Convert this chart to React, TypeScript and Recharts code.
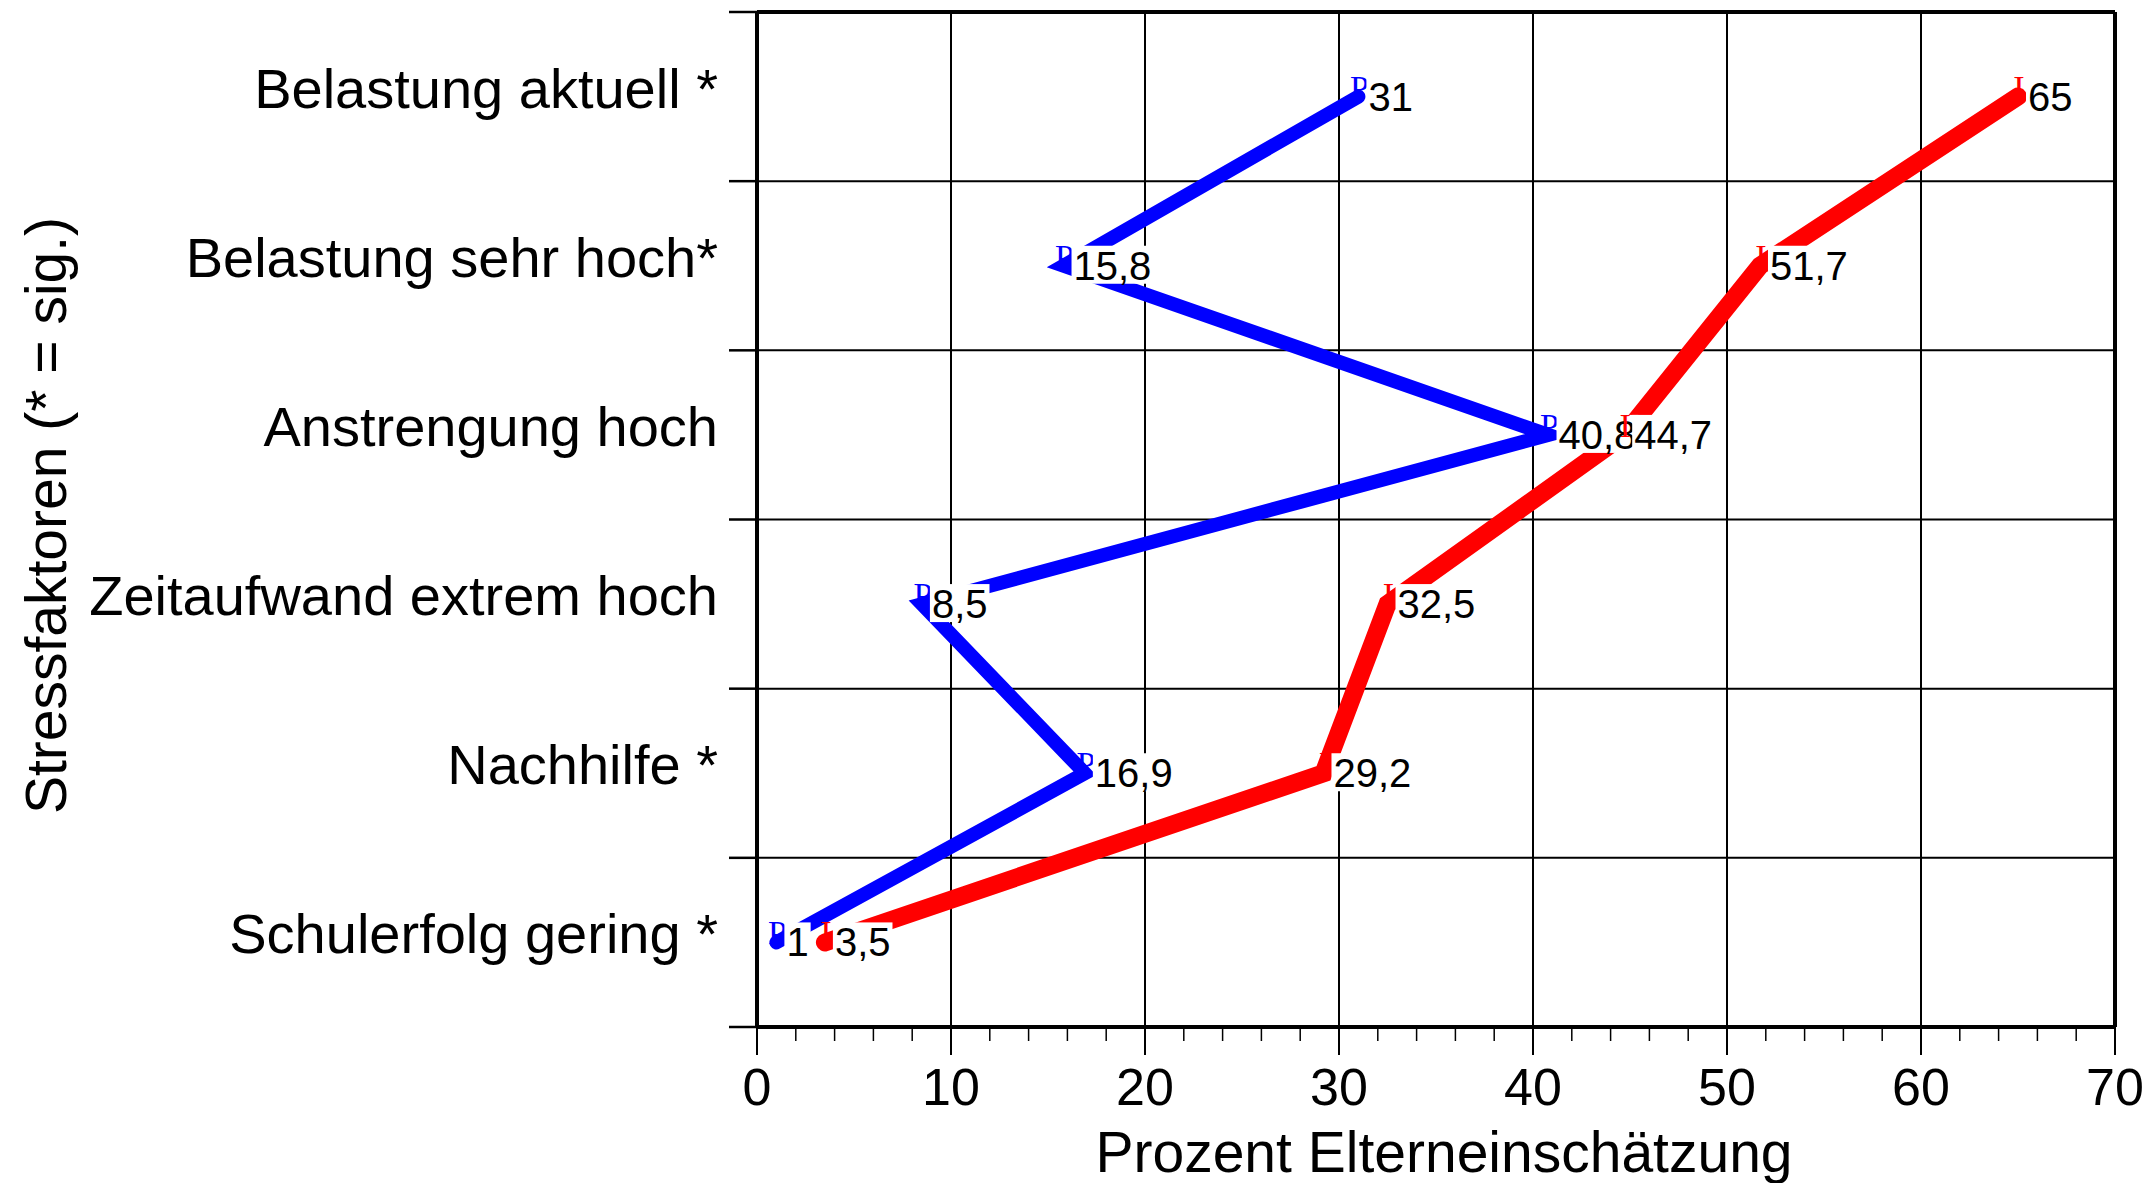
import React from 'react';
import { LineChart, Line, XAxis, YAxis, CartesianGrid, LabelList, Label } from 'recharts';

const categories = [
    'Belastung aktuell *',
    'Belastung sehr hoch*',
    'Anstrengung hoch',
    'Zeitaufwand extrem hoch',
    'Nachhilfe *',
    'Schulerfolg gering *',
];
const pValues = [31, 15.8, 40.8, 8.5, 16.9, 1];
const iValues = [65, 51.7, 44.7, 32.5, 29.2, 3.5];
const majorTicks = [0, 10, 20, 30, 40, 50, 60, 70];
const minorTicks = [0, 2, 4, 6, 8, 10, 12, 14, 16, 18, 20, 22, 24, 26, 28, 30, 32, 34, 36, 38, 40,
    42, 44, 46, 48, 50, 52, 54, 56, 58, 60, 62, 64, 66, 68, 70];
const rowTicks = [-0.5, 0, 0.5, 1, 1.5, 2, 2.5, 3, 3.5, 4, 4.5, 5, 5.5];

const data = categories.map((name, idx) => ({ idx, name, p: pValues[idx], i: iValues[idx] }));

const SANS = '"Liberation Sans", Arial, Helvetica, sans-serif';
const SERIF = '"Liberation Serif", "Times New Roman", serif';
const X_MAX = 70;

const XTick = (props: any) => {
    const { x, y, payload } = props;
    const v = payload.value;
    const major = v % 10 === 0;
    return (
        <g>
            <line x1={x} x2={x} y1={y} y2={y + (major ? 28 : 14)} stroke="#000" strokeWidth={major ? 2 : 1.5} />
            {major && (
                <text x={x} y={y + 78} textAnchor="middle" fontSize={52} fontFamily={SANS} fill="#000">
                    {v}
                </text>
            )}
        </g>
    );
};

const YTick = (props: any) => {
    const { x, y, payload } = props;
    const v = payload.value;
    if (Number.isInteger(v)) {
        return (
            <text x={x - 39} y={y + 11} textAnchor="end" fontSize={56} fontFamily={SANS} fill="#000">
                {categories[v]}
            </text>
        );
    }
    return <line x1={x - 28} x2={x} y1={y} y2={y} stroke="#000" strokeWidth={2.5} />;
};

const textWidth = (s: string) =>
    s.split('').reduce((w, c) => w + (c === ',' ? 11.1 : 22.24), 0);

const makeLabel = (letter: string, color: string) => (props: any) => {
    const { x, y, value } = props;
    if (x == null || y == null) return null;
    const s = String(value).replace('.', ',');
    const w = textWidth(s);
    return (
        <g>
            <text x={x + 1} y={y + 2} textAnchor="middle" fontSize={34} fontFamily={SERIF} fill={color}>
                {letter}
            </text>
            <rect x={x + 8} y={y - 20} width={w + 4} height={38} fill="#fff" />
            <text x={x + 10} y={y + 14} fontSize={40} fontFamily={SANS} fill="#000">
                {s}
            </text>
        </g>
    );
};

export default function App() {
    return (
        <div style={{ position: 'absolute', left: 0, top: 0, background: '#fff' }}>
            <LineChart
                layout="vertical"
                width={2153}
                height={1183}
                data={data}
                margin={{ top: 12, right: 38, bottom: 0, left: 0 }}
            >
                <CartesianGrid
                    stroke="#000"
                    strokeWidth={2}
                    verticalCoordinatesGenerator={({ offset }: any) =>
                        majorTicks.map((t) => offset.left + (t / X_MAX) * offset.width)}
                    horizontalCoordinatesGenerator={({ offset }: any) =>
                        rowTicks.filter((t) => !Number.isInteger(t)).map((t) =>
                            offset.top + ((t + 0.5) / categories.length) * offset.height)}
                />
                <CartesianGrid
                    stroke="#000"
                    strokeWidth={4}
                    verticalCoordinatesGenerator={({ offset }: any) => [offset.left, offset.left + offset.width]}
                    horizontalCoordinatesGenerator={({ offset }: any) => [offset.top, offset.top + offset.height]}
                />
                <XAxis
                    type="number"
                    domain={[0, X_MAX]}
                    ticks={minorTicks}
                    interval={0}
                    tick={<XTick />}
                    tickLine={false}
                    axisLine={false}
                    tickSize={0}
                    tickMargin={0}
                    height={156}
                >
                    <Label
                        content={({ viewBox }: any) => (
                            <text
                                x={viewBox.x + viewBox.width / 2 + 8}
                                y={viewBox.y + 145}
                                textAnchor="middle"
                                fontSize={57}
                                fontFamily={SANS}
                                fill="#000"
                            >
                                Prozent Elterneinschätzung
                            </text>
                        )}
                    />
                </XAxis>
                <YAxis
                    type="number"
                    dataKey="idx"
                    domain={[-0.5, 5.5]}
                    ticks={rowTicks}
                    interval={0}
                    allowDecimals
                    tick={<YTick />}
                    tickLine={false}
                    axisLine={false}
                    tickSize={0}
                    tickMargin={0}
                    width={757}
                >
                    <Label
                        content={({ viewBox }: any) => {
                            const cx = 46;
                            const cy = viewBox.y + viewBox.height / 2 - 4;
                            return (
                                <text
                                    x={cx}
                                    y={cy}
                                    dy="0.35em"
                                    transform={`rotate(-90 ${cx} ${cy})`}
                                    textAnchor="middle"
                                    fontSize={57}
                                    fontFamily={SANS}
                                    fill="#000"
                                >
                                    Stressfaktoren (* = sig.)
                                </text>
                            );
                        }}
                    />
                </YAxis>
                <Line
                    dataKey="p"
                    stroke="#0000ff"
                    strokeWidth={14}
                    strokeLinecap="round"
                    strokeLinejoin="miter"
                    dot={false}
                    activeDot={false}
                    isAnimationActive={false}
                >
                    <LabelList dataKey="p" content={makeLabel('P', '#0000ff')} />
                </Line>
                <Line
                    dataKey="i"
                    stroke="#ff0000"
                    strokeWidth={18}
                    strokeLinecap="round"
                    strokeLinejoin="miter"
                    dot={false}
                    activeDot={false}
                    isAnimationActive={false}
                >
                    <LabelList dataKey="i" content={makeLabel('I', '#ff0000')} />
                </Line>
            </LineChart>
        </div>
    );
}
